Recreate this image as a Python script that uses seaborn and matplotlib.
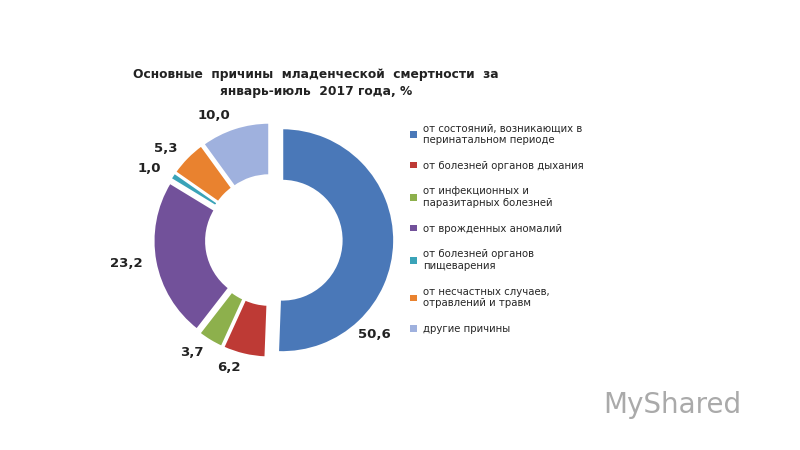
import matplotlib
matplotlib.use("Agg")
import matplotlib.pyplot as plt
import seaborn as sns
from matplotlib.patches import Patch

sns.set_theme(style="white")
plt.rcParams['font.family'] = ['DejaVu Sans']

categories = ["от состояний, возникающих в\nперинатальном периоде",
              "от болезней органов дыхания",
              "от инфекционных и\nпаразитарных болезней",
              "от врожденных аномалий",
              "от болезней органов\nпищеварения",
              "от несчастных случаев,\nотравлений и травм",
              "другие причины"]
values = [50.6, 6.2, 3.7, 23.2, 1.0, 5.3, 10.0]
value_labels = ["50,6", "6,2", "3,7", "23,2", "1,0", "5,3", "10,0"]
colors = sns.color_palette(["#4A78B8", "#BE3A35", "#8DB04C", "#72519A",
                            "#3AA3B8", "#E9822F", "#9FB1DE"])

fig = plt.figure(figsize=(8, 4.5), dpi=100)
R = 112
w = 2.4 * R / 800
h = 2.4 * R / 450
cx, cy = 271, 240
ax = fig.add_axes([cx/800 - w/2, (1 - cy/450) - h/2, w, h])
explode = [0.1, 0.05, 0.05, 0.05, 0.05, 0.05, 0.05]
wedges, texts = ax.pie(values, colors=colors, startangle=90, counterclock=False,
                       explode=explode, radius=1.0, labels=value_labels,
                       labeldistance=1.12,
                       wedgeprops=dict(width=0.47, edgecolor="white", linewidth=1.5),
                       textprops=dict(fontsize=9.5, fontweight="bold", color="#222222"))
texts[0].set_position((0.92, -0.84))
texts[0].set_ha("center")
ax.set_xlim(-1.2, 1.2)
ax.set_ylim(-1.2, 1.2)
ax.set_aspect("equal")

fig.text(0.395, 0.815, "Основные  причины  младенческой  смертности  за\nянварь-июль  2017 года, %",
         ha="center", va="center", fontsize=8.8, fontweight="bold", color="#222222",
         linespacing=1.45)

handles = [Patch(facecolor=c, edgecolor="none") for c in colors]
fig.legend(handles, categories, loc="upper left", bbox_to_anchor=(0.508, 0.735),
           frameon=False, fontsize=7.3, handlelength=0.65, handleheight=0.65,
           handletextpad=0.6, labelspacing=1.55, borderaxespad=0)

fig.text(0.84, 0.1, "MyShared", ha="center", va="center", fontsize=20, color="#aaaaaa")

fig.savefig("out.png", dpi=100)
